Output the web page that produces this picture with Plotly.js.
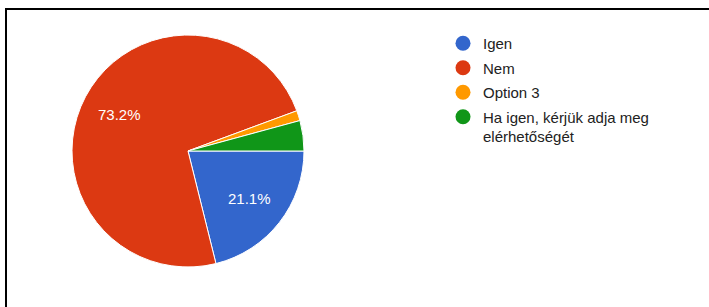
<!DOCTYPE html>
<html>
<head>
<meta charset="utf-8">
<script src="https://cdn.plot.ly/plotly-3.0.1.min.js"></script>
<style>
  html, body { margin: 0; padding: 0; background: #fff; }
  #chart { position: absolute; left: 0; top: 0; width: 709px; height: 307px; }
  #frame { position: absolute; left: 5px; top: 8px; width: 704px; height: 299px;
           border-top: 2px solid #000; border-left: 2px solid #000; box-sizing: border-box; pointer-events: none; }
</style>
</head>
<body>
<div id="chart"></div>
<div id="frame"></div>
<script>
const categories = ["Igen", "Nem", "Option 3", "Ha igen, kérjük adja meg elérhetőségét"];
const legendLabels = ["Igen", "Nem", "Option 3", "Ha igen, kérjük adja meg<br>elérhetőségét"];
const counts = [15, 52, 1, 3];
const colors = ["#3366cc", "#dc3912", "#ff9900", "#109618"];

const W = 709, H = 307;
const cx = 188, cy = 151, r = 116;
const labelRadius = 0.67;
const labelThreshold = 0.05;
const FONT = "Arial, 'Liberation Sans', sans-serif";

const traces = [{
  type: "pie",
  labels: categories,
  values: counts,
  sort: false,
  direction: "clockwise",
  rotation: 90,
  marker: { colors: colors, line: { color: "#ffffff", width: 1 } },
  textinfo: "none",
  hoverinfo: "label+percent",
  showlegend: false,
  domain: { x: [(cx - r) / W, (cx + r) / W], y: [(H - cy - r) / H, (H - cy + r) / H] }
}];

categories.forEach((c, i) => {
  traces.push({
    type: "scatter",
    mode: "markers",
    x: [null], y: [null],
    name: legendLabels[i],
    legendgroup: "g" + i,
    marker: { color: colors[i], size: 15, symbol: "circle" },
    showlegend: true,
    hoverinfo: "skip"
  });
});

// Percent labels, placed along each slice's mid-angle (clockwise from 3 o'clock)
const total = counts.reduce((a, b) => a + b, 0);
const annotations = [];
let cum = 0;
counts.forEach((v) => {
  const frac = v / total;
  const mid = (cum + frac / 2) * 2 * Math.PI;
  cum += frac;
  if (frac < labelThreshold) return;
  const px = cx + labelRadius * r * Math.cos(mid);
  const py = cy + labelRadius * r * Math.sin(mid);
  annotations.push({
    xref: "paper", yref: "paper",
    x: px / W, y: (H - py) / H,
    xanchor: "center", yanchor: "middle",
    showarrow: false,
    text: (frac * 100).toFixed(1) + "%",
    font: { family: FONT, size: 15, color: "#ffffff" }
  });
});

const layout = {
  width: W, height: H,
  margin: { l: 0, r: 0, t: 0, b: 0 },
  paper_bgcolor: "#ffffff",
  plot_bgcolor: "#ffffff",
  xaxis: { visible: false, domain: [0.99, 1] },
  yaxis: { visible: false, domain: [0.99, 1] },
  showlegend: true,
  annotations: annotations,
  legend: {
    x: 443 / W, y: (H - 27) / H, xanchor: "left", yanchor: "top",
    font: { family: FONT, size: 15, color: "#222222" },
    tracegroupgap: 2,
    traceorder: "grouped",
    valign: "top",
    itemsizing: "trace",
    bgcolor: "rgba(0,0,0,0)"
  }
};

Plotly.newPlot("chart", traces, layout, { displayModeBar: false, staticPlot: true });
</script>
</body>
</html>
